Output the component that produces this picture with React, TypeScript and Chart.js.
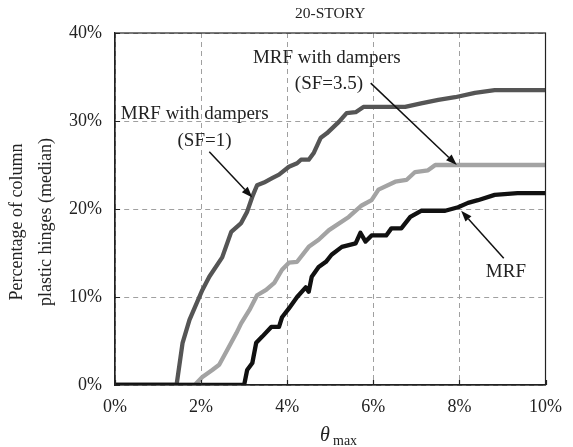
import React, { useEffect, useRef } from "react";
import { Chart, registerables } from "chart.js";

Chart.register(...registerables);

// theta_max (%) and percentage of column plastic hinges (%)
const thetaSF1 = [0, 1.43, 1.57, 1.73, 2.03, 2.19, 2.49, 2.7, 2.93, 3.07, 3.19, 3.3, 3.46, 3.65, 3.81, 4.04, 4.23, 4.32, 4.5, 4.62, 4.78, 4.92, 5.2, 5.38, 5.59, 5.77, 6.74, 7.11, 7.51, 7.9, 8.36, 8.82, 10];
const hingesSF1 = [0, 0, 4.8, 7.4, 10.8, 12.3, 14.5, 17.4, 18.4, 19.7, 21.4, 22.7, 23.0, 23.5, 23.9, 24.8, 25.2, 25.6, 25.6, 26.4, 28.1, 28.6, 29.9, 30.9, 31.0, 31.6, 31.6, 32.0, 32.4, 32.7, 33.2, 33.5, 33.5];

const thetaSF35 = [0, 1.85, 2.03, 2.26, 2.42, 2.61, 2.82, 2.93, 3.12, 3.3, 3.51, 3.7, 3.88, 4.04, 4.23, 4.5, 4.73, 4.97, 5.43, 5.73, 5.96, 6.12, 6.51, 6.77, 6.97, 7.27, 7.44, 10];
const hingesSF35 = [0, 0, 0.9, 1.7, 2.3, 4.0, 5.9, 7.0, 8.5, 10.2, 10.8, 11.6, 13.1, 13.9, 14.0, 15.7, 16.5, 17.6, 19.1, 20.4, 21.0, 22.2, 23.1, 23.3, 24.2, 24.4, 25.0, 25.0];

const thetaMRF = [0, 3.0, 3.07, 3.19, 3.28, 3.42, 3.63, 3.81, 3.88, 4.04, 4.23, 4.43, 4.5, 4.57, 4.73, 4.9, 5.03, 5.27, 5.59, 5.7, 5.82, 5.96, 6.3, 6.42, 6.65, 6.86, 7.11, 7.67, 7.97, 8.2, 8.43, 8.82, 9.35, 10];
const hingesMRF = [0, 0, 1.7, 2.5, 4.8, 5.5, 6.6, 6.6, 7.7, 8.7, 10.0, 11.1, 10.6, 12.3, 13.4, 14.0, 14.8, 15.7, 16.1, 17.3, 16.3, 17.0, 17.0, 17.8, 17.8, 19.1, 19.8, 19.8, 20.2, 20.7, 21.0, 21.6, 21.8, 21.8];

const xTicks = [0, 2, 4, 6, 8, 10];
const yTicks = [0, 10, 20, 30, 40];

const titleText = "20-STORY";
const yTitleLines = ["Percentage of column", "plastic hinges (median)"];

// annotation texts (data coordinates)
const labels = [
  { text: "MRF with dampers", x: 1.85, y: 30.8 },
  { text: "(SF=1)", x: 2.08, y: 27.7 },
  { text: "MRF with dampers", x: 4.92, y: 37.2 },
  { text: "(SF=3.5)", x: 4.97, y: 34.2 },
  { text: "MRF", x: 9.08, y: 12.8 },
];
const arrows = [
  { x1: 2.19, y1: 26.5, x2: 3.19, y2: 21.3 },
  { x1: 5.94, y1: 34.3, x2: 7.94, y2: 25.0 },
  { x1: 9.03, y1: 14.4, x2: 8.04, y2: 19.8 },
];

const FONT = '"Liberation Serif", "Times New Roman", serif';

const toXY = (xs: number[], ys: number[]) => xs.map((x, i) => ({ x, y: ys[i] }));

const overlay = {
  id: "overlay",
  afterDraw(chart: any) {
    const { ctx, chartArea: a, scales } = chart;
    const xs = scales.x, ys = scales.y;
    ctx.save();
    // frame
    ctx.strokeStyle = "#222";
    ctx.lineWidth = 1.2;
    ctx.strokeRect(a.left, a.top, a.right - a.left, a.bottom - a.top);
    // inner ticks
    ctx.beginPath();
    xTicks.forEach((v) => {
      const px = Math.round(xs.getPixelForValue(v)) + 0.5;
      ctx.moveTo(px, a.bottom);
      ctx.lineTo(px, a.bottom - 5);
    });
    yTicks.forEach((v) => {
      const py = Math.round(ys.getPixelForValue(v)) + 0.5;
      ctx.moveTo(a.left, py);
      ctx.lineTo(a.left + 5, py);
    });
    ctx.stroke();

    ctx.fillStyle = "#222";
    // title
    ctx.font = "15.5px " + FONT;
    ctx.textAlign = "center";
    ctx.textBaseline = "middle";
    ctx.fillText(titleText, (a.left + a.right) / 2, 14);

    // y title
    ctx.font = "18px " + FONT;
    const cy = 222;
    [17, 46].forEach((cx, i) => {
      ctx.save();
      ctx.translate(cx, cy);
      ctx.rotate(-Math.PI / 2);
      ctx.fillText(yTitleLines[i], 0, 0);
      ctx.restore();
    });

    // x title theta_max
    ctx.textAlign = "left";
    ctx.textBaseline = "alphabetic";
    ctx.font = "italic 20px " + FONT;
    ctx.fillText("θ", 320, 441);
    ctx.font = "14px " + FONT;
    ctx.fillText("max", 333, 445);

    // annotations
    ctx.font = "19px " + FONT;
    ctx.textAlign = "center";
    ctx.textBaseline = "middle";
    labels.forEach((l) => {
      ctx.fillText(l.text, xs.getPixelForValue(l.x), ys.getPixelForValue(l.y));
    });

    // arrows
    ctx.strokeStyle = "#111";
    ctx.fillStyle = "#111";
    ctx.lineWidth = 1.5;
    arrows.forEach((ar) => {
      const x1 = xs.getPixelForValue(ar.x1), y1 = ys.getPixelForValue(ar.y1);
      const x2 = xs.getPixelForValue(ar.x2), y2 = ys.getPixelForValue(ar.y2);
      const ang = Math.atan2(y2 - y1, x2 - x1);
      const L = 11, W = 4;
      const bx = x2 - L * Math.cos(ang), by = y2 - L * Math.sin(ang);
      ctx.beginPath();
      ctx.moveTo(x1, y1);
      ctx.lineTo(bx, by);
      ctx.stroke();
      ctx.beginPath();
      ctx.moveTo(x2, y2);
      ctx.lineTo(bx + W * Math.sin(ang), by - W * Math.cos(ang));
      ctx.lineTo(bx - W * Math.sin(ang), by + W * Math.cos(ang));
      ctx.closePath();
      ctx.fill();
    });
    ctx.restore();
  },
};

export default function App() {
  const ref = useRef<HTMLCanvasElement | null>(null);
  useEffect(() => {
    document.body.style.margin = "0";
    const canvas = ref.current;
    if (!canvas) return;
    const lineStyle = {
      pointRadius: 0,
      borderWidth: 4.3,
      tension: 0,
      fill: false,
      borderJoinStyle: "round" as const,
      borderCapStyle: "butt" as const,
    };
    const chart = new Chart(canvas, {
      type: "line",
      data: {
        datasets: [
          { label: "MRF", data: toXY(thetaMRF, hingesMRF), borderColor: "#111111", ...lineStyle },
          { label: "MRF with dampers (SF=1)", data: toXY(thetaSF1, hingesSF1), borderColor: "#555555", ...lineStyle },
          { label: "MRF with dampers (SF=3.5)", data: toXY(thetaSF35, hingesSF35), borderColor: "#a3a3a3", ...lineStyle },
        ],
      },
      plugins: [overlay],
      options: {
        animation: false,
        responsive: false,
        devicePixelRatio: 1,
        layout: { padding: { top: 33, right: 25, left: 0, bottom: 0 } },
        plugins: { legend: { display: false }, tooltip: { enabled: false }, title: { display: false } },
        scales: {
          x: {
            type: "linear",
            min: 0,
            max: 10,
            afterFit: (s: any) => { s.height = 62; },
            afterBuildTicks: (s: any) => { s.ticks = xTicks.map((v) => ({ value: v })); },
            ticks: {
              padding: 11,
              color: "#222",
              font: { family: FONT, size: 18 },
              callback: (v: any) => v + "%",
              maxRotation: 0,
            },
            grid: { color: "#a0a0a0", lineWidth: 1, drawTicks: false },
            border: { color: "#222", width: 1.2, dash: [5, 4] },
          },
          y: {
            min: 0,
            max: 40,
            afterFit: (s: any) => { s.width = 115; },
            afterBuildTicks: (s: any) => { s.ticks = yTicks.map((v) => ({ value: v })); },
            ticks: {
              padding: 13,
              color: "#222",
              font: { family: FONT, size: 18 },
              callback: (v: any) => v + "%",
            },
            grid: { color: "#a0a0a0", lineWidth: 1, drawTicks: false },
            border: { color: "#222", width: 1.2, dash: [5, 4] },
          },
        },
      },
    });
    return () => chart.destroy();
  }, []);
  return (
    <div style={{ width: 573, height: 447, background: "#fff" }}>
      <canvas ref={ref} width={573} height={447} style={{ display: "block" }} />
    </div>
  );
}
